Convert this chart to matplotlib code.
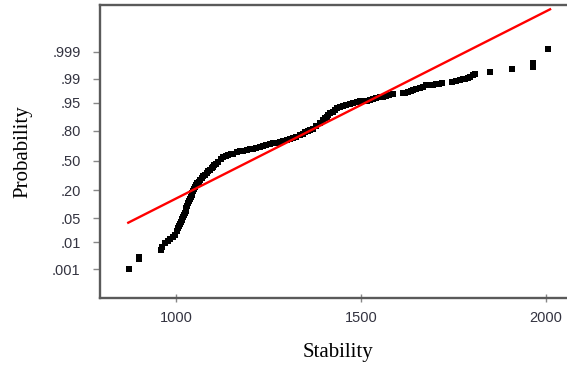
from statistics import NormalDist
import matplotlib
matplotlib.use("Agg")
from matplotlib import pyplot as plt

# sorted stability values and their normal scores
stability = [873, 900, 900, 959, 963, 970, 978, 984, 992, 997, 1003, 1006,
             1008, 1011, 1013, 1015, 1017, 1019, 1021, 1024, 1026, 1028,
             1030, 1033, 1036, 1038, 1040, 1042, 1044, 1047, 1049, 1051,
             1054, 1058, 1061, 1065, 1069, 1073, 1078, 1083, 1087, 1092,
             1096, 1101, 1104, 1108, 1114, 1121, 1128, 1134, 1141, 1148,
             1155, 1164, 1173, 1182, 1191, 1200, 1208, 1217, 1227, 1235,
             1243, 1253, 1263, 1272, 1281, 1290, 1299, 1307, 1316, 1325,
             1335, 1342, 1349, 1356, 1362, 1371, 1378, 1389, 1397, 1402,
             1407, 1411, 1416, 1423, 1430, 1436, 1443, 1451, 1459, 1469,
             1479, 1488, 1497, 1506, 1515, 1523, 1532, 1541, 1551, 1559,
             1567, 1577, 1587, 1614, 1620, 1627, 1634, 1641, 1650, 1659,
             1668, 1677, 1686, 1694, 1703, 1710, 1718, 1745, 1757, 1768,
             1775, 1781, 1788, 1795, 1802, 1808, 1849, 1909, 1966, 1966,
             2006]
normal_score = [-3.09, -2.81, -2.75, -2.54, -2.46, -2.35, -2.29, -2.24, -2.17,
                -2.12, -2.00, -1.93, -1.87, -1.80, -1.75, -1.69, -1.65, -1.61,
                -1.56, -1.50, -1.42, -1.35, -1.28, -1.22, -1.15, -1.09, -1.03,
                -0.98, -0.92, -0.87, -0.80, -0.74, -0.69, -0.64, -0.60, -0.55,
                -0.50, -0.45, -0.40, -0.36, -0.31, -0.27, -0.22, -0.18, -0.14,
                -0.10, -0.03, 0.04, 0.11, 0.14, 0.16, 0.18, 0.20, 0.23, 0.26,
                0.28, 0.30, 0.32, 0.34, 0.37, 0.39, 0.42, 0.44, 0.46, 0.49,
                0.51, 0.54, 0.56, 0.58, 0.61, 0.65, 0.68, 0.72, 0.76, 0.80,
                0.83, 0.87, 0.91, 0.98, 1.06, 1.15, 1.20, 1.25, 1.30, 1.34,
                1.38, 1.43, 1.48, 1.53, 1.56, 1.59, 1.62, 1.64, 1.66, 1.68,
                1.69, 1.70, 1.72, 1.75, 1.77, 1.80, 1.81, 1.83, 1.86, 1.88,
                1.91, 1.93, 1.96, 1.98, 2.00, 2.03, 2.06, 2.10, 2.14, 2.14,
                2.15, 2.17, 2.18, 2.19, 2.24, 2.26, 2.29, 2.31, 2.33, 2.35,
                2.38, 2.42, 2.45, 2.52, 2.59, 2.66, 2.77, 3.17]

# fitted normal reference line
fit_mean = 1203
fit_sd = 188
fit_range = [871, 2011]

prob_ticks = [.001, .01, .05, .20, .50, .80, .95, .99, .999]
prob_labels = [".001", ".01", ".05", ".20", ".50", ".80", ".95", ".99", ".999"]
x_ticks = [1000, 1500, 2000]

fig = plt.figure(figsize=(5.67, 3.67), dpi=100)
ax = fig.add_axes([100 / 567, 69 / 367, 475 / 567, 293 / 367])

ax.plot(stability, normal_score, "s", color="black", markersize=4.6,
        markeredgewidth=0)
line_z = [(x - fit_mean) / fit_sd for x in fit_range]
ax.plot(fit_range, line_z, color="red", linewidth=1.7)

nd = NormalDist()
ax.set_yticks([nd.inv_cdf(p) for p in prob_ticks])
ax.set_yticklabels(prob_labels)
ax.set_xticks(x_ticks)
ax.set_xlim(794.6, 794.6 + 475 * 2.7027)
ax.set_ylim(-3.906, 4.42)

for s in ["left", "bottom", "top"]:
    ax.spines[s].set_color("#5a5a5a")
    ax.spines[s].set_linewidth(1.7)
ax.spines["right"].set_visible(False)

ax.tick_params(axis="y", direction="out", length=5, width=1, color="#888888",
               labelsize=10.5, labelcolor="#333340", pad=9)
ax.tick_params(axis="x", direction="inout", length=6, width=1, color="#888888",
               labelsize=10.5, labelcolor="#333340", pad=6)
for lab in ax.get_xticklabels() + ax.get_yticklabels():
    lab.set_family("Liberation Sans")

ax.set_xlabel("Stability", family="Liberation Serif", fontsize=15, labelpad=13)
ax.set_ylabel("Probability", family="Liberation Serif", fontsize=15, labelpad=14)

fig.savefig("out.png", dpi=100)
